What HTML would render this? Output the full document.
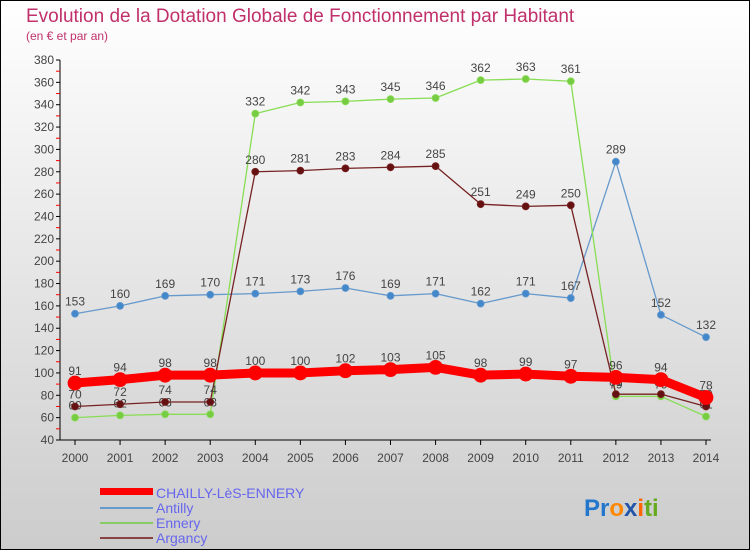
<!DOCTYPE html>
<html><head><meta charset="utf-8"><style>
body{margin:0}
svg{display:block;font-family:"Liberation Sans",sans-serif}
</style></head><body>
<svg id="c" width="750" height="550">
<defs><linearGradient id="bg" x1="0" y1="0" x2="0" y2="1"><stop offset="0" stop-color="#ffffff"/><stop offset="1" stop-color="#cccccc"/></linearGradient></defs>
<rect x="0.5" y="0.5" width="749" height="549" fill="url(#bg)" stroke="#000"/>
<text x="26" y="22" font-size="19" fill="#c0306a">Evolution de la Dotation Globale de Fonctionnement par Habitant</text>
<text x="26" y="40" font-size="12" fill="#c0306a">(en € et par an)</text>
<g id="axes"></g><g id="series"></g>
<g>
<rect x="100" y="488" width="53" height="7" fill="#ff0000"/>
<text x="156" y="498" font-size="14" fill="#6666ee">CHAILLY-LèS-ENNERY</text>
<rect x="100" y="507" width="53" height="2" fill="#6699cc"/>
<text x="156" y="513" font-size="14" fill="#6666ee">Antilly</text>
<rect x="100" y="522" width="53" height="2" fill="#88cc66"/>
<text x="156" y="528" font-size="14" fill="#6666ee">Ennery</text>
<rect x="100" y="537" width="53" height="2" fill="#884444"/>
<text x="156" y="543" font-size="14" fill="#6666ee">Argancy</text>
</g>
<text x="584" y="516" font-size="24" font-weight="bold"><tspan fill="#2277cc">Pr</tspan><tspan fill="#ff8800">o</tspan><tspan fill="#2255aa">x</tspan><tspan fill="#ff6600">i</tspan><tspan fill="#66aa22">ti</tspan></text>
</svg>
<script>
const years=["2000","2001","2002","2003","2004","2005","2006","2007","2008","2009","2010","2011","2012","2013","2014"];
const chailly=[91,94,98,98,100,100,102,103,105,98,99,97,96,94,78];
const antilly=[153,160,169,170,171,173,176,169,171,162,171,167,289,152,132];
const ennery=[60,62,63,63,332,342,343,345,346,362,363,361,79,79,61];
const argancy=[70,72,74,74,280,281,283,284,285,251,249,250,81,81,70];
const yTicks=[40,60,80,100,120,140,160,180,200,220,240,260,280,300,320,340,360,380];
const NS="http://www.w3.org/2000/svg";
const X=i=>75+i*(706-75)/14;
const Y=v=>440-(v-40)*380/340;
function mk(t,a,p){const e=document.createElementNS(NS,t);for(const k in a)e.setAttribute(k,a[k]);p.appendChild(e);return e;}
const ax=document.getElementById('axes');
let l=mk('line',{x1:60,y1:Y(380),x2:60,y2:Y(40),stroke:'#000'},ax);


l=mk('line',{x1:60,y1:Y(40),x2:X(14)+5,y2:Y(40),stroke:'#000'},ax);


yTicks.forEach((v,i)=>{
 mk('line',{x1:56,y1:Y(v),x2:60,y2:Y(v),stroke:'#000'},ax);
 if(i<yTicks.length-1) mk('line',{x1:56,y1:Y(v+10),x2:60,y2:Y(v+10),stroke:'#f00'},ax);
 const t=mk('text',{x:54,y:Y(v)+4,'font-size':12,'text-anchor':'end',fill:'#444'},ax);
 t.textContent=v;
 
 
});
years.forEach((y,i)=>{
 mk('line',{x1:X(i),y1:Y(40),x2:X(i),y2:Y(40)+5,stroke:'#000'},ax);
 const t=mk('text',{x:X(i),y:Y(40)+22,'font-size':12,'text-anchor':'middle',fill:'#444'},ax);
 t.textContent=y;
 
 
});
const sg=document.getElementById('series');
function draw(name,vals,color,w,r,dot){
 const g=mk('g',{},sg);
 
 
 const p=mk('polyline',{points:vals.map((v,i)=>X(i)+','+Y(v)).join(' '),fill:'none',stroke:color,'stroke-width':w,'stroke-linejoin':'round'},g);
 
 
 vals.forEach((v,i)=>{
  const c=mk('circle',{cx:X(i),cy:Y(v),r:r,fill:dot,stroke:color,'stroke-width':0.8},g);
  
  
  const t=mk('text',{x:X(i),y:Y(v)-8,'font-size':12,'text-anchor':'middle',fill:'#444'},g);
  t.textContent=v;
  
  
 });
}
draw('antilly',antilly,'#6699cc',1.3,3.5,'#4488cc');
draw('ennery',ennery,'#88dd55',1.3,3.5,'#77cc44');
draw('argancy',argancy,'#772222',1.3,3.5,'#661111');
draw('chailly',chailly,'#ff0000',9,7,'#ff0000');
</script>
</body></html>
